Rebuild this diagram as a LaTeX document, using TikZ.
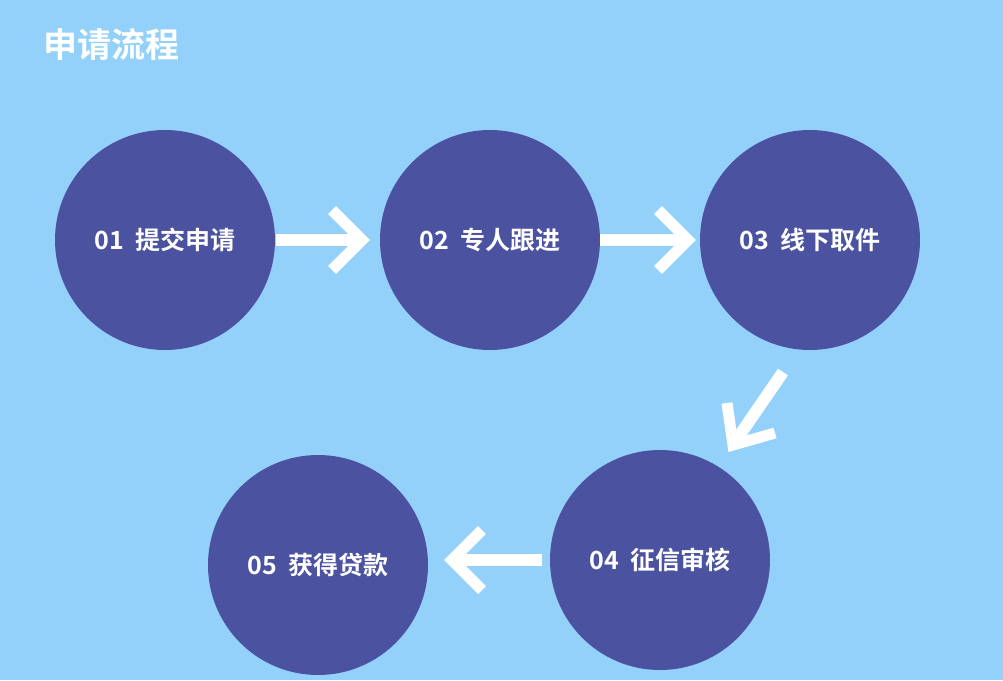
\documentclass[tikz,border=0pt]{standalone}
\usepackage{fontspec}
\newfontfamily\cjk{Noto Sans CJK SC Bold}
\definecolor{bg}{HTML}{93D1FB}
\definecolor{disc}{HTML}{4B52A0}
\begin{document}
\begin{tikzpicture}[x=1pt,y=-1pt,
  stepdisc/.style={circle,fill=disc,minimum size=220pt,inner sep=0pt,text=white,font=\cjk\fontsize{25}{25}\selectfont},
  chev/.style={draw=white,line width=11pt,miter limit=10}]
\fill[bg] (0,0) rectangle (1003,680);
\useasboundingbox (0,0) rectangle (1003,680);
\node[anchor=west,text=white,font=\cjk\fontsize{34}{34}\selectfont] (title) at (40,45) {申请流程};
\node[stepdisc] (s1) at (165,240) {01\ \ 提交申请};
\node[stepdisc] (s2) at (490,240) {02\ \ 专人跟进};
\node[stepdisc] (s3) at (810,240) {03\ \ 线下取件};
\node[stepdisc] (s4) at (660,560) {04\ \ 征信审核};
\node[stepdisc] (s5) at (318,565) {05\ \ 获得贷款};
% arrow 1
\coordinate (a1s) at (276,240); \coordinate (a1e) at (362,240);
\draw[white,line width=12pt] (a1s) -- ([xshift=-8pt]a1e);
\draw[chev] ([shift={(-30,-30)}]a1e) -- (a1e) -- ([shift={(-30,30)}]a1e);
% arrow 2
\coordinate (a2s) at (600,240); \coordinate (a2e) at (688,240);
\draw[white,line width=12pt] (a2s) -- ([xshift=-8pt]a2e);
\draw[chev] ([shift={(-30,-30)}]a2e) -- (a2e) -- ([shift={(-30,30)}]a2e);
% arrow 3 diagonal
\coordinate (a3s) at (783,372); \coordinate (a3e) at (733,445);
\draw[white,line width=12pt] (a3s) -- ([shift={(4,-6)}]a3e);
\draw[chev] ([shift={(-6,-42)}]a3e) -- (a3e) -- ([shift={(42,-12)}]a3e);
% arrow 4
\coordinate (a4s) at (542,560); \coordinate (a4e) at (452,560);
\draw[white,line width=12pt] (a4s) -- ([xshift=8pt]a4e);
\draw[chev] ([shift={(30,-30)}]a4e) -- (a4e) -- ([shift={(30,30)}]a4e);
\end{tikzpicture}
\end{document}
